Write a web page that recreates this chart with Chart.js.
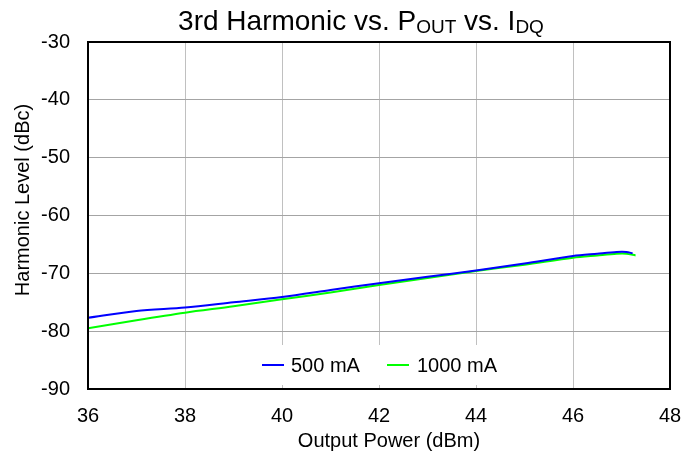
<!DOCTYPE html>
<html>
<head>
<meta charset="utf-8">
<script src="https://cdn.jsdelivr.net/npm/chart.js@4"></script>
<style>
  html, body { margin: 0; padding: 0; background: #fff; }
  #wrap { width: 700px; height: 461px; }
</style>
</head>
<body>
<div id="wrap"><canvas id="chart" width="700" height="461"></canvas></div>
<script>
/* ── DATA ── */
const seriesLabels = ["500 mA", "1000 mA"];
const seriesColors = ["#0000ff", "#00ff00"];
const powerA = [36, 37, 38, 39, 40, 41, 42, 43, 44, 45, 46, 46.5, 46.9, 47.1, 47.23];
const levelA = [-77.7, -76.5, -75.9, -75.0, -74.1, -72.9, -71.7, -70.6, -69.5, -68.3, -67.0, -66.6, -66.3, -66.3, -66.55];
const powerB = [36, 37, 38, 39, 40, 41, 42, 43, 44, 45, 46, 46.5, 46.9, 47.1, 47.29];
const levelB = [-79.5, -78.1, -76.8, -75.7, -74.5, -73.3, -72.0, -70.8, -69.6, -68.5, -67.3, -66.9, -66.6, -66.6, -66.9];
const xTicks = [36, 38, 40, 42, 44, 46, 48];
const yTicks = [-90, -80, -70, -60, -50, -40, -30];
const xTitle = "Output Power (dBm)";
const yTitle = "Harmonic Level (dBc)";

const FONT = "'Liberation Sans', Arial, sans-serif";

const toPoints = (xs, ys) => xs.map((x, i) => ({ x: x, y: ys[i] }));

/* ── TITLES (main title has subscripts) ── */
const titlePlugin = {
    id: "titles",
    afterDraw(chart) {
        const ctx = chart.ctx;
        const parts = [
            ["3rd Harmonic vs. P", 28, 0], ["OUT", 19, 3],
            [" vs. I", 28, 0], ["DQ", 19, 3]
        ];
        ctx.save();
        ctx.fillStyle = "#000";
        ctx.textBaseline = "alphabetic";
        let total = 0;
        parts.forEach(p => { ctx.font = p[1] + "px " + FONT; total += ctx.measureText(p[0]).width; });
        let x = 361 - total / 2;
        parts.forEach(p => {
            ctx.font = p[1] + "px " + FONT;
            ctx.fillText(p[0], x, 30 + p[2]);
            x += ctx.measureText(p[0]).width;
        });
        // axis titles
        ctx.font = "20px " + FONT;
        ctx.textAlign = "center";
        ctx.fillText(xTitle, 389, 447);
        ctx.translate(29, 200);
        ctx.rotate(-Math.PI / 2);
        ctx.fillText(yTitle, 0, 0);
        ctx.restore();
    }
};

/* ── FRAME + LEGEND inside plot ── */
const framePlugin = {
    id: "frame",
    afterDatasetsDraw(chart) {
        const ctx = chart.ctx, a = chart.chartArea;
        ctx.save();
        // legend box
        ctx.fillStyle = "#fff";
        ctx.fillRect(250, 345, 262, 40);
        ctx.font = "20px " + FONT;
        ctx.textBaseline = "middle";
        const items = [[262, 291], [387, 417]];
        chart.data.datasets.forEach((ds, i) => {
            ctx.strokeStyle = ds.borderColor;
            ctx.lineWidth = 2;
            ctx.beginPath();
            ctx.moveTo(items[i][0], 365);
            ctx.lineTo(items[i][0] + 22, 365);
            ctx.stroke();
            ctx.fillStyle = "#000";
            ctx.fillText(ds.label, items[i][1], 366);
        });
        // frame
        ctx.strokeStyle = "#000";
        ctx.lineWidth = 2;
        ctx.strokeRect(a.left, a.top, a.right - a.left, a.bottom - a.top);
        ctx.restore();
    }
};

new Chart(document.getElementById("chart"), {
    type: "line",
    data: {
        datasets: [
            { label: seriesLabels[0], data: toPoints(powerA, levelA), borderColor: seriesColors[0], borderWidth: 2, pointRadius: 0, tension: 0.3, fill: false },
            { label: seriesLabels[1], data: toPoints(powerB, levelB), borderColor: seriesColors[1], borderWidth: 2, pointRadius: 0, tension: 0.3, fill: false }
        ]
    },
    options: {
        responsive: false,
        animation: false,
        layout: { padding: { top: 42, right: 30, left: 0, bottom: 0 } },
        plugins: { legend: { display: false }, title: { display: false }, tooltip: { enabled: false } },
        scales: {
            x: {
                type: "linear", min: 36, max: 48,
                afterBuildTicks: s => { s.ticks = xTicks.map(v => ({ value: v })); },
                afterFit: s => { s.height = 72; },
                ticks: { color: "#000", font: { family: FONT, size: 20 }, padding: 15, maxRotation: 0 },
                grid: { color: "#c0c0c0", lineWidth: 1, drawTicks: false },
                border: { color: "#000", width: 2 }
            },
            y: {
                type: "linear", min: -90, max: -30,
                afterBuildTicks: s => { s.ticks = yTicks.map(v => ({ value: v })); },
                afterFit: s => { s.width = 88; },
                ticks: { color: "#000", font: { family: FONT, size: 20 }, padding: 18 },
                grid: { color: "#a4a4a4", lineWidth: 1, drawTicks: false },
                border: { color: "#000", width: 2 }
            }
        }
    },
    plugins: [titlePlugin, framePlugin]
});
</script>
</body>
</html>
